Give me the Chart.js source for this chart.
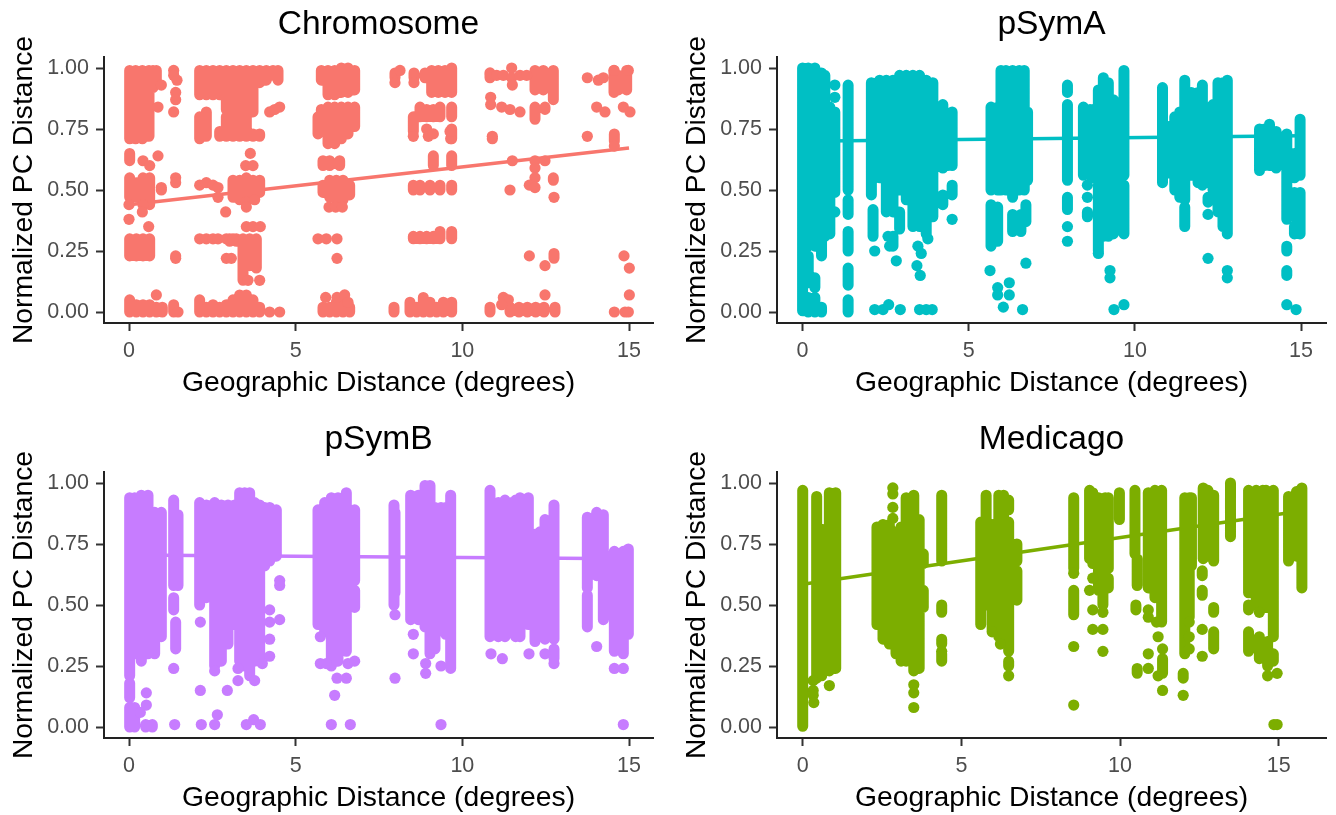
<!DOCTYPE html>
<html>
<head>
<meta charset="utf-8">
<title>PC distance vs geographic distance</title>
<script src="https://cdn.jsdelivr.net/npm/chart.js@4/dist/chart.umd.min.js"></script>
<style>
  html, body { margin: 0; padding: 0; background: #fff; }
  canvas { position: absolute; }
</style>
</head>
<body>
<canvas id="chrom"></canvas>
<canvas id="psyma"></canvas>
<canvas id="psymb"></canvas>
<canvas id="medicago"></canvas>
<script>
const xTicks = [0, 5, 10, 15];
const yTicks = [0, 0.25, 0.5, 0.75, 1];
const yAxisTitle = "Normalized PC Distance";
const xAxisTitle = "Geographic Distance (degrees)";

// [x, low, high] columns where the points merge into a solid strip
const chromColumns = [
  [0.02,0.71,0.99],[0.2,0.71,0.99],[0.4,0.71,0.99],[0.6,0.72,0.99],[0.72,0.92,0.99],[0.82,0.95,0.99],
  [2.12,0.89,0.99],[2.12,0.71,0.8],[2.32,0.89,0.99],[2.32,0.72,0.82],[2.52,0.89,0.99],[2.72,0.89,0.99],[2.72,0.72,0.74],
  [2.92,0.83,0.99],[2.92,0.72,0.8],[3.12,0.8,0.99],[3.12,0.72,0.77],[3.32,0.72,0.99],[3.52,0.72,0.99],[3.72,0.82,0.99],[3.72,0.72,0.73],[3.92,0.94,0.99],
  [4.12,0.95,0.99],[4.32,0.97,0.99],[4.47,0.95,0.99],[3.92,0.72,0.73],
  [5.77,0.95,0.99],[5.77,0.74,0.83],[5.97,0.89,0.99],[5.97,0.69,0.84],[6.17,0.89,0.99],[6.17,0.69,0.84],
  [6.37,0.9,1],[6.37,0.71,0.84],[6.57,0.9,1],[6.57,0.73,0.84],[6.77,0.91,0.99],[6.77,0.76,0.84],[5.67,0.73,0.8],
  [0.02,0.62,0.65],[0.02,0.47,0.55],[0.22,0.47,0.53],[0.42,0.47,0.55],[0.62,0.44,0.55],
  [3.12,0.47,0.54],[3.32,0.46,0.54],[3.52,0.47,0.55],[3.72,0.47,0.54],[3.92,0.49,0.54],
  [5.82,0.6,0.62],[6.02,0.6,0.62],[6.32,0.6,0.62],
  [5.82,0.49,0.52],[6.02,0.47,0.54],[6.22,0.46,0.54],[6.42,0.46,0.54],[6.62,0.48,0.52],
  [0.02,0.23,0.3],[0.22,0.23,0.3],[0.42,0.23,0.3],[0.62,0.23,0.3],
  [3.02,0.29,0.3],[3.22,0.29,0.3],[3.62,0.19,0.3],[3.82,0.18,0.3],[3.42,0.13,0.3],
  [0.02,0,0.05],[0.22,0,0.03],[0.42,0,0.03],[0.62,0,0.03],[0.82,0,0.02],[1,0,0.02],[1.34,0,0.03],
  [2.12,0,0.05],[2.32,0,0.02],[2.52,0,0.03],[2.72,0,0.02],[2.92,0,0.03],[3.12,0,0.05],[3.32,0,0.07],
  [3.52,0,0.07],[3.72,0,0.05],[3.92,0,0.02],[5.82,0,0.02],[6.02,0,0.02],[6.22,0,0.04],[6.42,0,0.05],[6.62,0,0.02],
  [7.98,0.96,0.98],[8.55,0.96,0.98],[8.88,0.96,0.98],[9.08,0.9,0.99],[9.28,0.9,0.99],[9.48,0.9,0.99],[9.68,0.9,1],
  [8.53,0.74,0.8],[8.73,0.8,0.84],[8.93,0.8,0.83],[9.13,0.8,0.83],[9.33,0.8,0.84],[9.68,0.8,0.84],
  [9.68,0.71,0.75],[9.13,0.6,0.64],[9.68,0.6,0.64],[8.53,0.5,0.52],[8.73,0.5,0.52],[9.03,0.5,0.52],[9.33,0.5,0.52],[9.68,0.5,0.52],
  [8.53,0.3,0.31],[8.73,0.3,0.31],[8.93,0.3,0.31],[9.13,0.3,0.31],[9.33,0.3,0.33],[9.68,0.3,0.33],
  [7.95,0,0.02],[8.43,0,0.04],[8.63,0,0.02],[8.83,0,0.06],[9.03,0,0.04],[9.23,0,0.02],[9.43,0,0.04],[9.68,0,0.04],
  [10.83,0,0.02],[10.83,0.96,0.97],[12.18,0.91,0.99],[12.43,0.91,0.99],[12.73,0.87,0.99],
  [12.18,0.79,0.84],[12.48,0.83,0.84],[12.73,0.54,0.55],[14.55,0.9,0.99],[14.68,0.91,0.97],[14.93,0.91,0.99],[14.56,0.7,0.73],
  [12.75,0.22,0.24],[11.43,0,0.02],[11.7,0,0.02],[11.95,0,0.02],[12.2,0,0.02],[12.45,0,0.02],[12.78,0,0.02]
];
const chromPoints = [
  [1.34,0.99],[1.34,0.97],[1.44,0.95],[1.4,0.9],[1.4,0.87],[1.34,0.82],[0.87,0.84],[0.97,0.93],
  [4.22,0.82],[4.52,0.84],[4.37,0.83],[0.87,0.64],[3.64,0.65],[3.5,0.6],[3.72,0.6],[0.42,0.62],[0.62,0.6],
  [1.4,0.55],[1.4,0.53],[0.97,0.51],[0.97,0.5],[2.12,0.52],[2.32,0.53],[2.52,0.52],[2.67,0.51],[2.67,0.47],
  [3.52,0.45],[3.77,0.46],[0,0.44],[0.42,0.44],[0.4,0.41],[0,0.38],[0.59,0.35],[2.9,0.41],[3.52,0.43],
  [3.52,0.35],[3.72,0.35],[3.94,0.35],[6,0.43],[6.2,0.43],[6.4,0.43],
  [1.4,0.23],[1.4,0.22],[2.12,0.3],[2.32,0.3],[2.52,0.3],[2.67,0.3],[2.92,0.3],[3.12,0.3],[2.92,0.22],[3.07,0.22],
  [3.57,0.13],[3.92,0.13],[5.67,0.3],[5.92,0.3],[6.24,0.3],[6.24,0.22],[0.82,0.07],[5.9,0.06],[6.24,0.06],[6.47,0.07],[6.57,0.04],
  [4.22,0],[4.52,0],[1.47,0],
  [8.55,0.94],[7.98,0.94],[9.65,0.71],[8.53,0.72],[8.93,0.75],[8.98,0.72],[9.13,0.73],[9.63,0.74],
  [8.13,0.99],[10.83,0.98],[11.03,0.97],[11.23,0.97],[11.48,1],[11.48,0.96],[11.73,0.97],[11.93,0.97],
  [10.85,0.88],[10.85,0.85],[11.18,0.84],[11.43,0.83],[11.73,0.82],[11.5,0.93],
  [10.9,0.72],[10.9,0.71],[11.5,0.62],[12.18,0.62],[12.48,0.62],[12.18,0.59],
  [12.18,0.55],[12.01,0.52],[12.18,0.51],[11.43,0.5],[12.75,0.47],
  [12.01,0.23],[12.48,0.19],[14.85,0.23],[15.01,0.18],[12.48,0.07],[15.01,0.07],[11.23,0.06],[11.38,0.05],[11.18,0.03],
  [13.75,0.96],[14.08,0.95],[14.23,0.96],[14.55,0.99],[14.98,0.99],[14.03,0.84],[14.28,0.82],[14.83,0.84],[15.03,0.82],
  [13.75,0.72],[14.56,0.68],[14.56,0],[14.88,0],[14.98,0]
];
const chromLine = [[0, 0.44], [15, 0.672]];

const symaColumns = [
  [0,0.005,1],[0.17,0.27,1],[0.17,0.12,0.23],[0.17,0,0.06],[0.37,0.27,1],[0.37,0.1,0.14],[0.37,0,0.06],
  [0.57,0.23,0.98],[0.57,0,0.02],[0.67,0.31,0.97],[0.82,0.32,0.84],[0.97,0.49,0.82],
  [1.37,0.5,0.93],[1.37,0.4,0.46],[1.37,0.25,0.33],[1.37,0.11,0.18],[1.37,0,0.05],
  [2.07,0.48,0.94],[2.12,0.33,0.42],[2.12,0.31,0.35],[2.32,0.55,0.95],[2.52,0.41,0.95],[2.72,0.41,0.95],[2.72,0.27,0.31],
  [2.92,0.5,0.97],[2.92,0.34,0.41],[3.12,0.46,0.97],[3.32,0.35,0.97],[3.52,0.35,0.97],[3.72,0.32,0.95],[3.92,0.39,0.94],
  [4.22,0.59,0.85],[4.22,0.44,0.48],[4.37,0.6,0.81],[4.5,0.6,0.82],[4.5,0.48,0.52],
  [5.67,0.5,0.84],[5.67,0.27,0.44],[5.87,0.5,0.84],[5.97,0.5,0.99],[6.12,0.5,0.99],[6.32,0.47,0.99],
  [6.52,0.5,0.99],[6.67,0.5,0.99],[6.77,0.54,0.82],[6.72,0.37,0.44],[6.57,0.33,0.4],[6.32,0.33,0.4],[5.87,0.29,0.43],
  [7.97,0.9,0.93],[7.97,0.54,0.85],[7.97,0.42,0.47],[8.45,0.56,0.84],[8.57,0.39,0.41],[8.65,0.56,0.83],[8.78,0.55,0.83],
  [8.9,0.25,0.91],[9.05,0.31,0.96],[9.2,0.31,0.94],[9.35,0.32,0.87],[9.5,0.35,0.85],[9.67,0.56,0.99],[9.67,0.32,0.52],
  [10.83,0.53,0.92],[11,0.57,0.76],[11.2,0.5,0.8],[11.35,0.47,0.82],[11.5,0.46,0.95],[11.5,0.35,0.43],[11.7,0.56,0.9],
  [11.9,0.53,0.9],[12.03,0.52,0.93],[12.2,0.53,0.78],[12.2,0.45,0.47],[12.35,0.5,0.85],[12.5,0.41,0.94],[12.65,0.35,0.94],[12.78,0.32,0.95],
  [13.75,0.58,0.75],[13.9,0.6,0.75],[14.05,0.6,0.77],[14.25,0.59,0.74],[14.57,0.38,0.73],[14.8,0.55,0.65],[14.8,0.39,0.49],[14.8,0.32,0.35],[14.97,0.56,0.79],[14.97,0.32,0.49],
  [14.57,0.25,0.27],[14.57,0.15,0.17]
];
const symaPoints = [
  [0.97,0.93],[0.97,0.88],[0.97,0.41],[2.82,0.21],[3.44,0.19],[3.54,0.15],[2.17,0.25],[2.57,0.31],[2.62,0.27],
  [3.47,0.27],[3.57,0.24],[3.77,0.3],[4.5,0.38],[2.17,0.01],[2.42,0.01],[2.59,0.03],[2.94,0.01],[3.52,0.01],[3.72,0.01],[3.9,0.01],
  [5.64,0.17],[6.72,0.2],[5.87,0.1],[5.87,0.07],[6.22,0.12],[6.22,0.07],[6.04,0.02],[6.62,0.01],
  [7.97,0.35],[7.97,0.29],[8.57,0.52],[8.57,0.47],[8.9,0.24],[9.25,0.17],[9.25,0.14],[9.37,0.01],[9.67,0.03],
  [12.2,0.4],[12.2,0.22],[12.78,0.17],[12.78,0.14],[14.57,0.03],[14.85,0.01]
];
const symaLine = [[0, 0.7], [15, 0.722]];

const symbColumns = [
  [0.02,0.21,0.94],[0.17,0.3,0.94],[0.37,0.27,0.95],[0.57,0.3,0.95],[0.77,0.3,0.88],[0.97,0.37,0.88],
  [1.34,0.58,0.93],[1.34,0.48,0.53],[1.4,0.32,0.43],[1.47,0.58,0.87],
  [2.12,0.5,0.92],[2.32,0.53,0.91],[2.57,0.25,0.92],[2.77,0.27,0.91],[2.97,0.34,0.91],[3.17,0.42,0.91],
  [3.32,0.27,0.96],[3.47,0.25,0.96],[3.62,0.21,0.96],[3.77,0.27,0.92],[3.92,0.27,0.91],[4.07,0.66,0.9],[4.22,0.68,0.9],[4.42,0.7,0.89],
  [0.02,0.12,0.18],[0.02,0,0.08],[0.17,0,0.08],[0.5,0,0.01],[0.7,0,0.01],
  [5.67,0.42,0.89],[5.87,0.39,0.92],[6.07,0.25,0.94],[6.27,0.27,0.94],[6.52,0.31,0.96],[6.77,0.6,0.89],[6.77,0.49,0.56],
  [7.95,0.5,0.91],[7.98,0.55,0.88],[8.45,0.44,0.95],[8.68,0.44,0.95],[8.88,0.41,0.99],[9.03,0.3,0.99],
  [9.18,0.32,0.9],[9.36,0.44,0.9],[9.5,0.38,0.9],[9.65,0.24,0.95],
  [10.83,0.37,0.97],[11.08,0.37,0.92],[11.28,0.37,0.93],[11.48,0.55,0.92],[11.6,0.37,0.93],[11.73,0.37,0.94],[11.98,0.42,0.94],[12.18,0.35,0.79],[12.33,0.37,0.8],[12.48,0.36,0.85],[12.75,0.36,0.91],[12.75,0.28,0.32],
  [13.75,0.57,0.86],[13.75,0.41,0.54],[14.03,0.62,0.88],[14.23,0.56,0.87],[14.23,0.44,0.75],[14.56,0.31,0.72],[14.83,0.3,0.72],[14.98,0.38,0.73]
];
const symbPoints = [
  [1.34,0.24],[2.14,0.43],[2.14,0.15],[2.95,0.15],[2.65,0.05],[2.57,0.23],[3.27,0.24],[3.27,0.19],[3.77,0.19],[4.22,0.48],
  [4.52,0.6],[4.52,0.58],[4.22,0.43],[4.52,0.44],[4.22,0.36],[4.22,0.29],[4,0.26],[0.52,0.14],[0.52,0.09],[0.34,0.06],
  [1.37,0.01],[2.17,0.01],[2.57,0.01],[3.52,0.01],[3.74,0.03],[3.94,0.01],
  [5.74,0.37],[5.74,0.26],[5.92,0.26],[6.57,0.26],[6.77,0.27],[6.52,0.2],[6.24,0.2],[6.17,0.13],[6.07,0.01],[6.64,0.01],
  [7.98,0.46],[7.98,0.2],[8.53,0.38],[8.53,0.3],[8.9,0.26],[8.9,0.22],[9.36,0.01],[9.36,0.25],
  [10.86,0.3],[11.2,0.28],[12,0.3],[12.48,0.3],[12.75,0.26],[14.03,0.33],[14.56,0.24],[14.83,0.24],[14.83,0.01]
];
const symbLine = [[0, 0.705], [15, 0.69]];

const medColumns = [
  [0,0.003,0.97],[0.44,0.2,0.945],[0.6,0.21,0.81],[0.84,0.23,0.96],[1.04,0.24,0.96],
  [2.34,0.42,0.82],[2.53,0.36,0.83],[2.73,0.34,0.83],[2.94,0.3,0.8],[3.1,0.27,0.82],[3.26,0.27,0.94],[3.5,0.23,0.95],[3.67,0.24,0.85],[3.8,0.67,0.71],[3.8,0.49,0.56],
  [4.38,0.68,0.95],[4.38,0.47,0.5],[4.38,0.34,0.36],[4.38,0.27,0.3],
  [5.61,0.42,0.84],[5.78,0.72,0.95],[5.78,0.5,0.84],[5.97,0.4,0.83],[6.18,0.37,0.95],[6.33,0.35,0.95],[6.49,0.89,0.93],[6.49,0.31,0.84],[6.49,0.25,0.27],[6.75,0.68,0.75],[6.75,0.52,0.64],
  [8.54,0.65,0.94],[8.54,0.46,0.56],[9.04,0.69,0.97],[9.14,0.67,0.96],[9.32,0.61,0.94],[9.32,0.56,0.6],[9.53,0.65,0.94],[9.63,0.65,0.94],[9.63,0.57,0.61],[9.46,0.5,0.63],
  [9.98,0.85,0.96],[10.47,0.71,0.97],[10.54,0.58,0.69],[10.5,0.48,0.5],[10.54,0.22,0.24],
  [10.89,0.57,0.96],[11.1,0.53,0.97],[11.31,0.43,0.97],[11.34,0.22,0.28],
  [12.04,0.3,0.94],[12.18,0.45,0.94],[12.25,0.66,0.94],[11.99,0.2,0.22],
  [12.62,0.69,0.98],[12.77,0.7,0.97],[12.59,0.62,0.64],[12.59,0.54,0.56],[12.95,0.68,0.95],[12.95,0.47,0.49],[12.95,0.32,0.39],
  [13.48,0.78,1],[14.05,0.55,0.97],[14.05,0.48,0.5],[14.05,0.31,0.39],[14.29,0.5,0.97],[14.5,0.49,0.97],[14.39,0.28,0.37],
  [14.6,0.49,0.97],[14.83,0.37,0.97],[14.65,0.25,0.35],[14.83,0.27,0.3],
  [15.31,0.68,0.945],[15.56,0.7,0.965],[15.73,0.57,0.98]
];
const medPoints = [
  [0.33,0.19],[0.33,0.15],[0.33,0.13],[0.35,0.1],[0.84,0.17],[2.84,0.98],[2.84,0.955],[2.84,0.9],[2.84,0.855],
  [3.5,0.173],[3.5,0.14],[3.5,0.08],[4.38,0.31],[5.97,0.39],[6.23,0.34],[6.49,0.21],
  [8.54,0.63],[8.54,0.33],[8.54,0.09],[9.14,0.61],[9.14,0.48],[9.14,0.4],[9.04,0.56],[9.46,0.47],[9.46,0.4],[9.46,0.31],
  [10.89,0.48],[10.89,0.45],[10.89,0.3],[10.89,0.24],[11.15,0.43],[11.2,0.37],[11.34,0.32],[11.2,0.21],[11.34,0.15],
  [11.99,0.13],[12.18,0.43],[12.18,0.37],[12.18,0.32],[12.59,0.4],[12.59,0.29],[14.39,0.47],[14.95,0.22],[14.65,0.21],[14.95,0.01],[14.85,0.01]
];
const medLine = [[0, 0.585], [15.7, 0.885]];

const panels = [
  { id: "chrom", title: "Chromosome", color: "#F8766D", columns: chromColumns, points: chromPoints, line: chromLine, left: 0, top: 0, xMin: -0.75, xMax: 15.72 },
  { id: "psyma", title: "pSymA", color: "#00BFC4", columns: symaColumns, points: symaPoints, line: symaLine, left: 673, top: 0, xMin: -0.77, xMax: 15.75 },
  { id: "psymb", title: "pSymB", color: "#C77CFF", columns: symbColumns, points: symbPoints, line: symbLine, left: 0, top: 415, xMin: -0.75, xMax: 15.72 },
  { id: "medicago", title: "Medicago", color: "#7CAE00", columns: medColumns, points: medPoints, line: medLine, left: 673, top: 415, xMin: -0.81, xMax: 16.49 }
];

const font = "'Liberation Sans', Arial, sans-serif";

function toXY(pairs) {
  return pairs.map(p => ({ x: p[0], y: p[1] }));
}

// one line dataset, a gap after each column
function columnPath(columns) {
  const out = [];
  columns.forEach(c => {
    out.push({ x: c[0], y: c[1] }, { x: c[0], y: c[2] }, { x: c[0], y: null });
  });
  return out;
}

panels.forEach(p => {
  const canvas = document.getElementById(p.id);
  canvas.style.left = p.left + "px";
  canvas.style.top = p.top + "px";
  canvas.width = 663;
  canvas.height = 400;

  new Chart(canvas, {
    type: "scatter",
    data: {
      datasets: [
        { data: toXY(p.points), backgroundColor: p.color, borderColor: p.color, pointRadius: 5.6, pointBorderWidth: 0 },
        { data: columnPath(p.columns), showLine: true, spanGaps: false, borderColor: p.color, borderWidth: 11, borderCapStyle: "round", pointRadius: 0 },
        { data: toXY(p.line), showLine: true, borderColor: p.color, borderWidth: 3.5, pointRadius: 0 }
      ]
    },
    options: {
      responsive: false,
      animation: false,
      events: [],
      layout: { padding: { left: 7, right: 10, top: 0, bottom: 0 } },
      plugins: {
        legend: { display: false },
        tooltip: { enabled: false },
        title: {
          display: true,
          text: p.title,
          fullSize: false,
          color: "#000",
          font: { family: font, size: 33.6, weight: "normal" },
          padding: { top: 5, bottom: 11.7 }
        }
      },
      scales: {
        x: {
          type: "linear",
          min: p.xMin,
          max: p.xMax,
          afterBuildTicks: s => { s.ticks = xTicks.map(v => ({ value: v })); },
          afterFit: s => { s.height = 77; },
          grid: { drawOnChartArea: false, tickLength: 8, tickColor: "#333", tickWidth: 2 },
          border: { color: "#222", width: 2 },
          ticks: { color: "#4D4D4D", font: { family: font, size: 21.5 }, padding: 7, maxRotation: 0, autoSkip: false },
          title: { display: true, text: xAxisTitle, color: "#000", font: { family: font, size: 28.3 }, padding: { top: 0, bottom: 0 } }
        },
        y: {
          type: "linear",
          min: -0.045,
          max: 1.045,
          afterBuildTicks: s => { s.ticks = yTicks.map(v => ({ value: v })); },
          afterFit: s => { s.width = 97; },
          grid: { drawOnChartArea: false, tickLength: 8, tickColor: "#333", tickWidth: 2 },
          border: { color: "#222", width: 2 },
          ticks: { color: "#4D4D4D", font: { family: font, size: 21.5 }, padding: 7, autoSkip: false, callback: v => v.toFixed(2) },
          title: { display: true, text: yAxisTitle, color: "#000", font: { family: font, size: 28.3 }, padding: { top: 0, bottom: 0 } }
        }
      }
    }
  });
});
</script>
</body>
</html>
